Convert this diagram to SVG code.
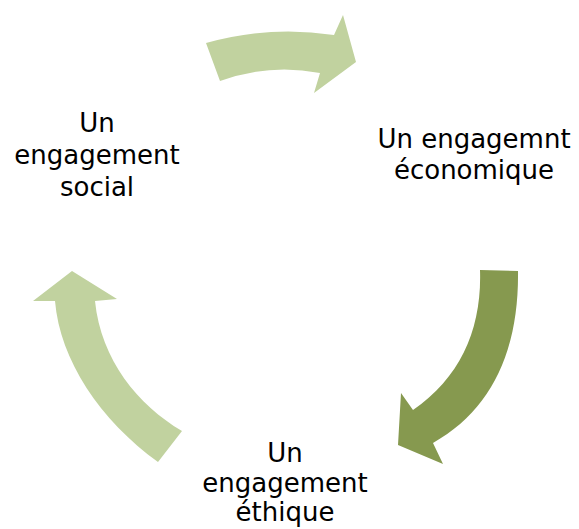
<svg xmlns="http://www.w3.org/2000/svg" width="579" height="529" viewBox="0 0 579 529">
  <style>
    .light { fill: #C1D29F; }
    .dark { fill: #86994F; }
    .label { font-family: "Comic Sans MS", "DejaVu Sans", sans-serif; font-size: 26px; fill: #000; text-anchor: middle; }
  </style>
  <rect width="579" height="529" fill="#fff"/>

  <!-- curved arrows of the cycle -->
  <g id="connectors">
    <!-- social -> economique -->
    <path class="light" d="M206,43 Q270,25 334,35 L343,15 L356,62 L314,93 L320,73 Q270,63 220,81 Z"/>
    <!-- economique -> ethique -->
    <path class="dark" d="M480,270 L518,271 C519,350 492,410 433,443 L443,464 L398,445 L401,393 L413,410 C461,377 482,328 480,270 Z"/>
    <!-- ethique -> social -->
    <path class="light" d="M182,431 L158,462 C100,420 60,360 55,301 L33,301 L72,271 L117,299 L95,301 C101,360 138,405 182,431 Z"/>
  </g>

  <g id="node-social">
    <text class="label" x="97" y="132">Un</text>
    <text class="label" x="97" y="164">engagement</text>
    <text class="label" x="97" y="196">social</text>
  </g>

  <g id="node-economique">
    <text class="label" x="474" y="148">Un engagemnt</text>
    <text class="label" x="474" y="179">économique</text>
  </g>

  <g id="node-ethique">
    <text class="label" x="285" y="462">Un</text>
    <text class="label" x="285" y="492">engagement</text>
    <text class="label" x="285" y="521">éthique</text>
  </g>
</svg>
